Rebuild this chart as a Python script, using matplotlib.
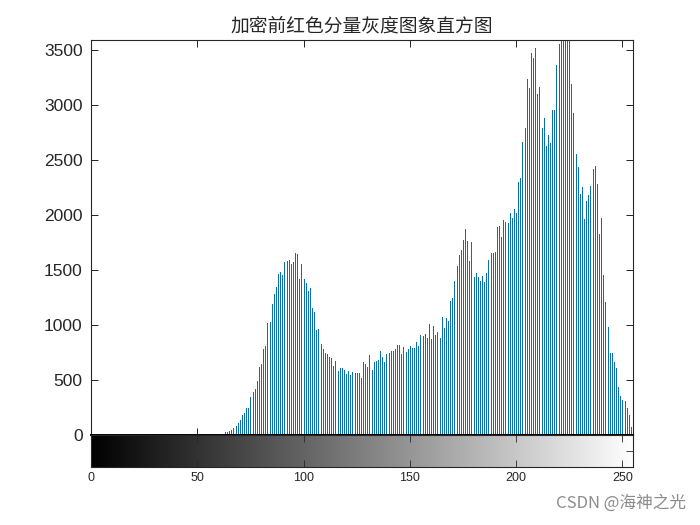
import numpy as np
import matplotlib
matplotlib.use('Agg')
import matplotlib.pyplot as plt

# --- data ---
title_text = '加密前红色分量灰度图象直方图'
watermark = 'CSDN @海神之光'

first_level = 63  # levels below this have zero pixels
counts_tail = [
    25, 30, 40, 50, 60, 80, 110, 135, 180, 200,            # 63-72
    245, 245, 345, 390, 415, 490, 615, 645, 780, 805,      # 73-82
    1020, 1025, 1190, 1280, 1345, 1465, 1480, 1455, 1573, 1585,  # 83-92
    1591, 1555, 1570, 1652, 1642, 1418, 1555, 1415, 1379, 1312,  # 93-102
    1333, 1152, 1121, 955, 960, 824, 779, 748, 736, 712,   # 103-112
    697, 627, 673, 582, 612, 612, 591, 555, 585, 545,      # 113-122
    576, 561, 561, 561, 521, 664, 645, 615, 727, 591,      # 123-132
    664, 676, 682, 764, 712, 664, 733, 742, 764, 764,      # 133-142
    779, 818, 818, 736, 803, 758, 779, 809, 788, 794,      # 143-152
    848, 809, 909, 900, 918, 879, 1009, 873, 991, 909,     # 153-162
    939, 879, 1070, 976, 1067, 1036, 1218, 1248, 1400, 1536,  # 163-172
    1636, 1682, 1773, 1870, 1764, 1582, 1752, 1433, 1476, 1439,  # 173-182
    1403, 1445, 1391, 1470, 1591, 1657, 1657, 1660, 1888, 1900,  # 183-192
    1803, 1955, 1939, 1924, 2015, 1970, 2052, 2021, 2303, 2333,  # 193-202
    2667, 2788, 3233, 3152, 3476, 3424, 3515, 3100, 3167, 2788,  # 203-212
    2879, 2627, 2727, 2658, 2955, 2955, 3364, 3555, 3590, 3590,  # 213-222
    3590, 3590, 3590, 3191, 2924, 2555, 2439, 2188, 2252, 1961,  # 223-232
    2130, 2182, 2267, 2415, 2445, 2282, 1827, 1970, 1455, 1212,  # 233-242
    985, 742, 742, 667, 606, 433, 355, 318, 312, 242,      # 243-252
    182, 76, 40,                                           # 253-255
]
levels = np.arange(256)
counts = np.zeros(256)
counts[first_level:first_level + len(counts_tail)] = counts_tail

y_ticks = [0, 500, 1000, 1500, 2000, 2500, 3000, 3500]
x_ticks = [0, 50, 100, 150, 200, 250]
y_top = 3590

# --- figure ---
fig = plt.figure(figsize=(7, 5.25), dpi=100)
fig.patch.set_facecolor('white')

ax = fig.add_axes([0.13, 0.1714, 0.7743, 0.7524])
ax.vlines(levels, 0, counts, color='#0a6fb0', linewidth=0.72, antialiased=False)
ax.set_xlim(0, 255)
ax.set_ylim(0, y_top)
ax.set_yticks(y_ticks)
ax.set_xticks(x_ticks)
ax.set_xticklabels([])
ax.tick_params(direction='in', top=True, right=True, length=5, width=0.6,
               labelsize=12.5, pad=6)
for lab in ax.get_yticklabels():
    lab.set_fontfamily('Liberation Sans')
    lab.set_color('#262626')
for sp in ax.spines.values():
    sp.set_linewidth(0.8)
    sp.set_color('#262626')
ax.spines['bottom'].set_linewidth(1.4)
ax.spines['bottom'].set_color('black')

ax.set_title(title_text, fontsize=13.5, family=['Noto Sans CJK SC', 'DejaVu Sans'],
             color='#262626', pad=6, fontweight='light')

# grayscale bar under the histogram
cax = fig.add_axes([0.13, 0.1105, 0.7743, 0.061])
cax.imshow(levels[None, :], cmap='gray', aspect='auto',
           extent=[-0.5, 255.5, 0, 1], vmin=0, vmax=255)
cax.set_xlim(0, 255)
cax.set_ylim(0, 1)
cax.set_xticks(x_ticks)
cax.set_yticks([0.5])
cax.set_yticklabels([])
cax.tick_params(direction='in', top=True, right=True, left=False, length=5,
                width=0.6, labelsize=9, color='#262626')
for lab in cax.get_xticklabels():
    lab.set_fontfamily('Liberation Sans')
    lab.set_color('#262626')
for sp in cax.spines.values():
    sp.set_linewidth(0.8)
    sp.set_color('#262626')

fig.text(0.98, 0.026, watermark, ha='right', va='bottom', fontsize=12,
         color='#8c8c8c', family=['Noto Sans CJK SC', 'DejaVu Sans'])

fig.savefig('out.png', dpi=100)
